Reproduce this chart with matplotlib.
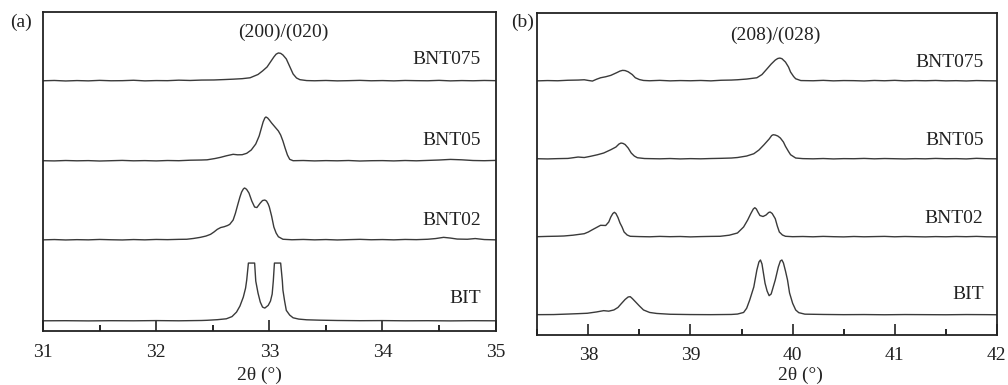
import numpy as np
import matplotlib
matplotlib.use('Agg')
import matplotlib.pyplot as plt
from matplotlib.ticker import MultipleLocator

plt.rcParams['font.family'] = ['Liberation Serif', 'DejaVu Serif']

# XRD patterns: (2theta, intensity above baseline, a.u.)
samples = ['BIT', 'BNT02', 'BNT05', 'BNT075']

a_bit = [(31.0, 0.3), (31.2, 0.4), (31.4, 0.2), (31.6, 0.4), (31.8, 0.3), (32.0, 0.5), (32.2, 0.3),
         (32.4, 0.6), (32.45, 0.8), (32.54, 1.4), (32.62, 2.3), (32.67, 4.5), (32.71, 9), (32.74, 15),
         (32.77, 24), (32.79, 33), (32.8, 41), (32.815, 58), (32.87, 58), (32.88, 40), (32.9, 28),
         (32.92, 19), (32.94, 14), (32.96, 13), (32.99, 15.7), (33.01, 20), (33.025, 27), (33.035, 40),
         (33.045, 58), (33.10, 58), (33.115, 40), (33.12, 31), (33.135, 20), (33.15, 10.7), (33.18, 6),
         (33.21, 3.3), (33.26, 2), (33.33, 1.3), (33.45, 0.9), (33.6, 0.6), (33.8, 0.4), (34.0, 0.5),
         (34.2, 0.3), (34.4, 0.4), (34.6, 0.2), (34.8, 0.4), (35.0, 0.3)]
a_bnt02 = [(31.0, 0.2), (31.1, 0.5), (31.2, 0.1), (31.3, 0.4), (31.4, 0.2), (31.5, 0.6), (31.6, 0.3),
           (31.7, 0.1), (31.8, 0.5), (31.9, 0.2), (32.0, 0.6), (32.1, 0.4), (32.2, 0.7), (32.27, 0.8),
           (32.33, 1.6), (32.39, 2.7), (32.44, 4.0), (32.48, 5.7), (32.51, 8), (32.54, 10.7), (32.57, 12.5),
           (32.6, 13.3), (32.63, 14.5), (32.65, 15.7), (32.68, 20), (32.7, 26.7), (32.72, 35), (32.74, 43),
           (32.755, 48), (32.77, 51), (32.78, 52), (32.79, 51.5), (32.8, 50.5), (32.82, 47), (32.845, 39),
           (32.87, 33), (32.89, 32.5), (32.92, 37), (32.94, 39.5), (32.96, 40), (32.975, 39), (32.99, 36),
           (33.0, 33), (33.02, 24), (33.04, 13), (33.06, 7), (33.08, 3.3), (33.12, 0.8), (33.2, 0.3),
           (33.3, 0.6), (33.4, 0.2), (33.5, 0.5), (33.6, 0.1), (33.7, 0.4), (33.8, 0.7), (33.9, 0.3),
           (34.0, 0.5), (34.1, 0.2), (34.2, 0.6), (34.3, 0.4), (34.4, 0.8), (34.47, 1.5), (34.54, 2.7),
           (34.6, 2.0), (34.66, 1.0), (34.75, 0.8), (34.82, 1.5), (34.9, 0.5), (35.0, 0.2)]
a_bnt05 = [(31.0, 0.3), (31.1, 0.1), (31.2, 0.5), (31.3, 0.2), (31.4, 0.4), (31.5, 0), (31.6, 0.3),
           (31.7, 0.6), (31.8, 0.2), (31.9, 0.4), (32.0, 0.1), (32.1, 0.5), (32.2, 0.3), (32.3, 0.8),
           (32.4, 1.0), (32.45, 1.2), (32.52, 2.5), (32.57, 3.7), (32.62, 5.2), (32.68, 6.7), (32.72, 6.2),
           (32.76, 6.3), (32.8, 7.7), (32.84, 11), (32.88, 17), (32.91, 25), (32.93, 33), (32.945, 39),
           (32.96, 43), (32.97, 44), (32.985, 43), (33.0, 41), (33.02, 38), (33.05, 34), (33.08, 30),
           (33.10, 26), (33.12, 20), (33.14, 12.7), (33.16, 6), (33.18, 1.7), (33.21, 0.3), (33.3, 0.5),
           (33.4, 0.1), (33.5, 0.4), (33.6, 0.2), (33.7, 0.5), (33.8, 0), (33.9, 0.3), (34.0, 0.4),
           (34.1, 0.1), (34.2, 0.5), (34.3, 0.2), (34.4, 0.6), (34.5, 1.0), (34.6, 1.6), (34.7, 1.2),
           (34.8, 0.5), (34.9, 0.3), (35.0, 0.6)]
a_bnt075 = [(31.0, 0.2), (31.1, 0.5), (31.2, 0), (31.3, 0.4), (31.4, 0.1), (31.5, 0.6), (31.6, 0.2),
            (31.7, 0.3), (31.8, 0.7), (31.9, 0.1), (32.0, 0.4), (32.1, 0.3), (32.2, 0.8), (32.3, 0.5),
            (32.4, 0.9), (32.51, 1.0), (32.6, 1.4), (32.68, 1.8), (32.76, 2.3), (32.83, 3.2), (32.9, 6.5),
            (32.94, 10), (32.98, 14), (33.01, 19), (33.04, 24), (33.06, 26.8), (33.08, 28), (33.10, 27.6),
            (33.12, 26), (33.15, 22), (33.17, 17), (33.19, 12), (33.21, 7), (33.24, 3), (33.27, 1.3),
            (33.33, 0.4), (33.4, 0.2), (33.5, 0.5), (33.6, 0.1), (33.7, 0.3), (33.8, 0.6), (33.9, 0.2),
            (34.0, 0.4), (34.1, 0.1), (34.2, 0.5), (34.3, 0.3), (34.4, 0.2), (34.5, 0.6), (34.6, 0.1),
            (34.7, 0.4), (34.8, 0.2), (34.9, 0.5), (35.0, 0.3)]

b_bit = [(37.5, 0.3), (37.66, 0.4), (37.8, 0.9), (37.9, 1.3), (37.99, 1.7), (38.08, 3.0), (38.15, 4.3),
         (38.2, 3.8), (38.25, 5), (38.29, 7.5), (38.32, 11), (38.36, 15.5), (38.39, 18), (38.41, 18.3),
         (38.43, 16.5), (38.46, 13.3), (38.5, 9), (38.54, 5), (38.6, 2.5), (38.67, 1.5), (38.8, 0.7),
         (39.0, 0.4), (39.2, 0.3), (39.4, 0.5), (39.46, 0.9), (39.52, 2.5), (39.55, 6.7), (39.58, 15),
         (39.62, 28), (39.65, 45), (39.67, 53), (39.685, 55), (39.7, 51), (39.73, 31.7), (39.75, 24),
         (39.77, 19.3), (39.79, 21), (39.81, 28), (39.83, 35), (39.86, 48), (39.88, 54), (39.895, 55),
         (39.91, 52), (39.93, 44), (39.95, 35), (39.97, 22), (40.0, 11.7), (40.03, 5), (40.06, 2.3),
         (40.12, 0.8), (40.3, 0.5), (40.5, 0.3), (40.7, 0.4), (40.9, 0.2), (41.1, 0.4), (41.3, 0.3),
         (41.5, 0.2), (41.7, 0.4), (41.9, 0.3), (42.0, 0.2)]
b_bnt02 = [(37.5, 0.3), (37.6, 0.6), (37.7, 0.8), (37.76, 1.0), (37.85, 1.8), (37.96, 3.3), (38.0, 5.0),
           (38.04, 7.3), (38.08, 9.5), (38.12, 11.7), (38.17, 11.5), (38.2, 15), (38.22, 20), (38.24, 23.5),
           (38.255, 24.7), (38.27, 23.5), (38.29, 19.5), (38.31, 14), (38.33, 10), (38.35, 5), (38.38, 2.0),
           (38.41, 0.7), (38.5, 0.4), (38.6, 0.2), (38.7, 0.6), (38.8, 0.3), (38.9, 0.5), (39.0, 0.1),
           (39.1, 0.4), (39.2, 0.6), (39.29, 0.7), (39.38, 1.8), (39.46, 4), (39.52, 10), (39.56, 17),
           (39.59, 23.3), (39.615, 28), (39.63, 29.3), (39.645, 28), (39.66, 25), (39.68, 21.5), (39.71, 20.5),
           (39.74, 22), (39.765, 24.5), (39.78, 25), (39.8, 23.5), (39.83, 18.3), (39.85, 11), (39.87, 5),
           (39.9, 2.0), (39.93, 0.7), (40.0, 0.3), (40.1, 0.5), (40.2, 0.2), (40.3, 0.6), (40.4, 0.3),
           (40.5, 0.1), (40.6, 0.5), (40.7, 0.2), (40.8, 0.4), (40.9, 0.6), (41.0, 0.2), (41.1, 0.5),
           (41.2, 0.3), (41.3, 0.1), (41.4, 0.4), (41.5, 0.2), (41.6, 0.5), (41.7, 0.3), (41.8, 0.6),
           (41.9, 0.2), (42.0, 0.1)]
b_bnt05 = [(37.5, 0.3), (37.6, 0.1), (37.7, 0.4), (37.8, 0.6), (37.83, 1.0), (37.9, 2.0), (37.96, 1.5),
           (38.02, 2.7), (38.09, 4.3), (38.15, 6.0), (38.22, 9.3), (38.27, 12), (38.3, 15), (38.32, 16),
           (38.34, 15.6), (38.36, 14.5), (38.39, 11), (38.42, 6), (38.45, 3.0), (38.48, 1.3), (38.55, 0.5),
           (38.7, 0.2), (38.8, 0.5), (38.9, 0.1), (39.0, 0.4), (39.1, 0.2), (39.2, 0.5), (39.3, 0.7),
           (39.4, 1.0), (39.46, 1.5), (39.55, 3.0), (39.62, 5.3), (39.67, 9), (39.72, 14.3), (39.77, 20),
           (39.795, 23.5), (39.81, 24.3), (39.83, 24), (39.855, 23), (39.88, 21), (39.91, 17), (39.93, 12.7),
           (39.96, 7.5), (39.98, 4.3), (40.03, 1.0), (40.1, 0.4), (40.2, 0.2), (40.3, 0.5), (40.4, 0.1),
           (40.5, 0.4), (40.6, 0.3), (40.7, 0.6), (40.8, 0.2), (40.9, 0.5), (41.0, 0.3), (41.1, 0.1),
           (41.2, 0.4), (41.3, 0.2), (41.4, 0.6), (41.5, 0.3), (41.6, 0.4), (41.7, 0.1), (41.8, 0.7),
           (41.9, 0.3), (42.0, 0.2)]
b_bnt075 = [(37.5, 0.2), (37.6, 0.5), (37.7, 0.3), (37.8, 0.8), (37.9, 1.0), (37.96, 1.3), (38.0, 0.6),
            (38.04, 0), (38.08, 1.8), (38.12, 3.3), (38.17, 4.3), (38.22, 5.7), (38.28, 8.5), (38.31, 10),
            (38.335, 10.7), (38.36, 10.5), (38.39, 9.3), (38.43, 6.5), (38.46, 3.3), (38.5, 1.5), (38.54, 0.6),
            (38.6, 0.3), (38.7, 0.7), (38.8, 0.2), (38.9, 0.5), (39.0, 0.3), (39.1, 0.6), (39.2, 0.2),
            (39.3, 0.8), (39.4, 1.0), (39.46, 1.3), (39.55, 2.0), (39.65, 3.3), (39.7, 6.5), (39.75, 12.3),
            (39.79, 17), (39.83, 21), (39.855, 22.6), (39.875, 23), (39.895, 22.4), (39.93, 19), (39.96, 14),
            (39.98, 9), (40.01, 4.5), (40.03, 2.3), (40.08, 0.5), (40.2, 0.3), (40.3, 0.7), (40.4, 0.2),
            (40.5, 0.5), (40.6, 0.4), (40.7, 0.1), (40.8, 0.6), (40.9, 0.3), (41.0, 0.7), (41.1, 0.2),
            (41.2, 0.5), (41.3, 0.3), (41.4, 0.6), (41.5, 0.2), (41.6, 0.4), (41.7, 0.1), (41.8, 0.5),
            (41.9, 0.3), (42.0, 0.2)]

# vertical stacking offsets for each pattern
a_offsets = [10, 91, 170, 250]
b_offsets = [20, 98, 176, 254]
a_label_y = [33, 111, 191, 271]
b_label_y = [40, 117, 195, 273]

fig = plt.figure(figsize=(10.08, 3.85), dpi=100)
ax1 = fig.add_axes([0.0427, 0.140, 0.449, 0.829])
ax2 = fig.add_axes([0.533, 0.130, 0.456, 0.836])

line_color = '#3a3a3a'


def draw_panel(ax, curves, offsets, label_y, label_x, xlim, ylim, xlabel_pos):
    for name, pts, off, ly in zip(samples, curves, offsets, label_y):
        arr = np.array(pts)
        ax.plot(arr[:, 0], arr[:, 1] + off, color=line_color, lw=1.0)
        ax.text(label_x, ly, name, ha='right', va='center', fontsize=14, color='#222222')
    ax.set_xlim(*xlim)
    ax.set_ylim(*ylim)
    ax.set_yticks([])
    ax.xaxis.set_major_locator(MultipleLocator(1))
    ax.xaxis.set_minor_locator(MultipleLocator(0.5))
    ax.tick_params(axis='x', which='major', direction='in', length=8, width=1.2,
                   labelsize=14, pad=9, colors='#222222')
    ax.tick_params(axis='x', which='minor', direction='in', length=4, width=1.2)
    for s in ax.spines.values():
        s.set_linewidth(1.3)
        s.set_color('#222222')
    ax.set_xlabel('2θ (°)', fontsize=14, color='#222222')
    ax.xaxis.set_label_coords(*xlabel_pos)
    ax.xaxis.label.set_va('center')


draw_panel(ax1, [a_bit, a_bnt02, a_bnt05, a_bnt075], a_offsets, a_label_y, 34.87,
           (31, 35), (0, 319), (0.479, -0.138))
ax1.text(33.12, 299, '(200)/(020)', ha='center', va='center', fontsize=14, color='#222222')
fig.text(0.010, 0.943, '(a)', fontsize=14, va='center', color='#222222')

draw_panel(ax2, [b_bit, b_bnt02, b_bnt05, b_bnt075], b_offsets, b_label_y, 41.87,
           (37.5, 42), (0, 322), (0.572, -0.124))
ax2.text(39.83, 300, '(208)/(028)', ha='center', va='center', fontsize=14, color='#222222')
fig.text(0.507, 0.943, '(b)', fontsize=14, va='center', color='#222222')

fig.savefig('out.png', dpi=100)
